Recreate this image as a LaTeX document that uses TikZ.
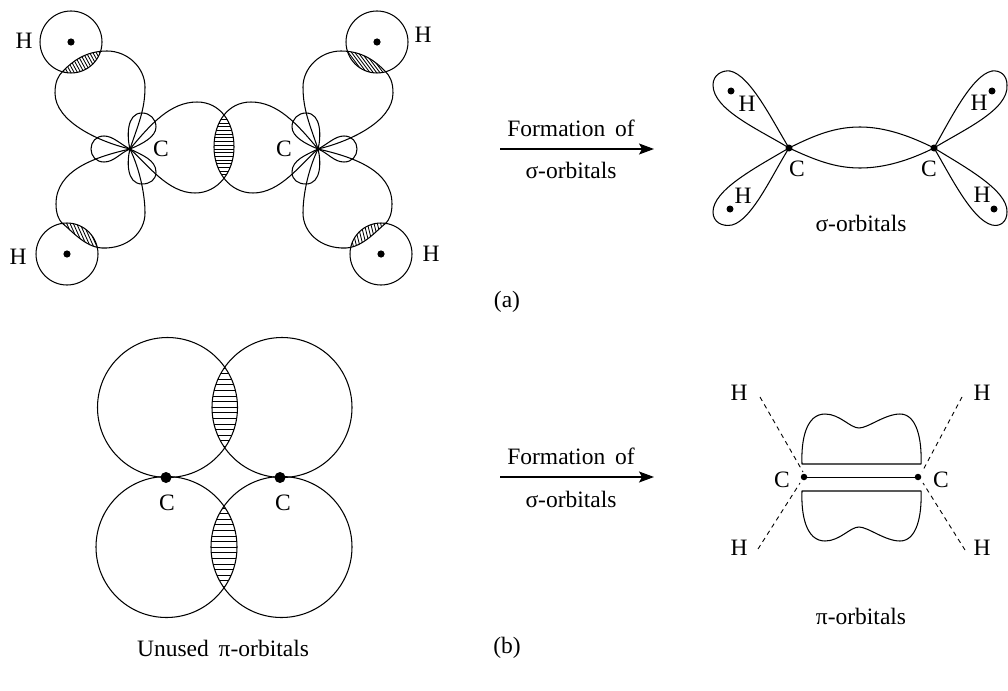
\documentclass[tikz,border=0pt]{standalone}
\usepackage{fontspec}
\setmainfont{Liberation Serif}
\usetikzlibrary{arrows.meta}
\tikzset{
  orb/.style={line width=1.05pt,line join=round},
  hatchline/.style={line width=0.85pt},
  lab/.style={font=\fontsize{23.5}{26}\selectfont,inner sep=0pt},
  dotc/.style={circle,fill=black,inner sep=0pt,minimum size=#1},
  dashb/.style={line width=0.9pt,dash pattern=on 4.5pt off 4pt},
  reactarrow/.style={line width=1.2pt,-{Stealth[length=15pt,width=11pt,inset=3pt]}}
}
% y-down hatching: lines from (x,y0) to (x+dx,y1)
\newcommand\hatchset[6]{\foreach \hx in {#1,#2,...,#3}{\draw[hatchline] (\hx,#4) -- ({\hx+#6},#5);}}
\newcommand\lobeUp{(130,149) .. controls (100,142) and (55,122) .. (55,93) .. controls (55,82) and (58,76) .. (63,71) .. controls (72,62) and (85,51) .. (107,51) .. controls (128,51) and (145,68) .. (145,87) .. controls (145,110) and (138,125) .. (130,149)}
\newcommand\lobeDown{(130,149) .. controls (95,157) and (56,170) .. (56,204) .. controls (56,214) and (59,220) .. (62,223) .. controls (72,231) and (85,247) .. (102,248) .. controls (128,249) and (145,232) .. (145,213) .. controls (145,195) and (140,170) .. (130,149)}
\newcommand\lobeSide{(130,149) .. controls (150,125) and (170,102) .. (197,102) .. controls (220,102) and (234,122) .. (234,147) .. controls (234,172) and (218,193) .. (195,193) .. controls (168,193) and (148,165) .. (130,149)}
\newcommand\halfA[2]{%
  \begin{scope}
    \clip (71,42) circle (31);
    \clip \lobeUp;
    \hatchset{20}{23.3}{150}{40}{80}{#1}
  \end{scope}
  \begin{scope}
    \clip (67,254) circle (31);
    \clip \lobeDown;
    \hatchset{20}{23.3}{150}{215}{255}{#2}
  \end{scope}
  \draw[orb] (71,42) circle (31);
  \draw[orb] (67,254) circle (31);
  \draw[orb] \lobeUp;
  \draw[orb] \lobeDown;
  \draw[orb] \lobeSide;
  \draw[orb] (130,149) .. controls (127,138) and (126,113) .. (142,113) .. controls (150,113) and (156,119) .. (156,127) .. controls (156,137) and (142,144) .. (130,149);
  \draw[orb] (130,149) .. controls (127,160) and (126,184) .. (142,184) .. controls (150,184) and (156,180) .. (156,172) .. controls (156,160) and (142,155) .. (130,149);
  \draw[orb] (130,149) .. controls (120,144) and (113,136) .. (104,136) .. controls (96,136) and (91,142) .. (91,149) .. controls (91,156) and (96,162) .. (104,162) .. controls (114,162) and (120,153) .. (130,149);
  \fill (71,42) circle (3.6);
  \fill (67,254) circle (3.6);
}
\begin{document}
\begin{tikzpicture}[x=1pt,y=-1pt]
\useasboundingbox (0,0) rectangle (1008,690);
% ---- (a) left
\begin{scope}
  \clip \lobeSide;
  \clip[shift={(448,0)},xscale=-1] \lobeSide;
  \foreach \hy in {112,115.7,...,180}{\draw[hatchline] (205,\hy) -- (245,\hy);}
\end{scope}
\halfA{22}{18}
\begin{scope}[shift={(448,0)},xscale=-1]
  \halfA{-30}{-10}
\end{scope}
\node[lab] (h1) at (24,41) {H};
\node[lab] (h2) at (18,257) {H};
\node[lab] (h3) at (423,35) {H};
\node[lab] (h4) at (431,254) {H};
\node[lab] (c1) at (161,149) {C};
\node[lab] (c2) at (284,149) {C};
% ---- arrows
\coordinate (a1s) at (500,149);\coordinate (a1e) at (654,149);
\draw[reactarrow] (a1s) -- (a1e);
\node[lab] (f1) at (571,128) {Formation\hspace{4pt} of};
\node[lab] (s1) at (571,170) {σ-orbitals};
\coordinate (a2s) at (500,477);\coordinate (a2e) at (654,477);
\draw[reactarrow] (a2s) -- (a2e);
\node[lab] (f2) at (571,456) {Formation\hspace{4pt} of};
\node[lab] (s2) at (571,499) {σ-orbitals};
\node[lab] (la) at (507,302) {(a)};
\node[lab] (lb) at (507,648) {(b)};
% ---- sigma
\draw[orb] (789,148) .. controls (815,135) and (835,127) .. (860,127) .. controls (885,127) and (910,136) .. (934,148);
\draw[orb] (789,148) .. controls (815,160) and (835,168) .. (860,168) .. controls (885,168) and (910,160) .. (934,148);
\draw[orb] (789,148) .. controls (760,130) and (713,110) .. (713,85) .. controls (713,75) and (722,70) .. (730,71) .. controls (750,75) and (772,120) .. (789,148);
\draw[orb] (789,148) .. controls (755,168) and (713,190) .. (713,212) .. controls (713,222) and (722,227) .. (732,225) .. controls (752,220) and (772,175) .. (789,148);
\draw[orb] (934,148) .. controls (963,130) and (1009,110) .. (1007,85) .. controls (1007,75) and (1000,70) .. (992,71) .. controls (972,75) and (950,120) .. (934,148);
\draw[orb] (934,148) .. controls (963,166) and (1008,190) .. (1007,212) .. controls (1007,222) and (1000,227) .. (992,225) .. controls (972,220) and (950,175) .. (934,148);
\node[dotc=7pt] (cs1) at (789,148) {};
\node[dotc=7pt] (cs2) at (934,148) {};
\node[dotc=7pt] (hs1) at (731,91) {};
\node[dotc=7pt] (hs2) at (730,209) {};
\node[dotc=7pt] (hs3) at (992,91) {};
\node[dotc=7pt] (hs4) at (994,209) {};
\node[lab] (th1) at (747,104) {H};
\node[lab] (th2) at (743,196) {H};
\node[lab] (th3) at (979,103) {H};
\node[lab] (th4) at (982,195) {H};
\node[lab] (tc1) at (797,169) {C};
\node[lab] (tc2) at (929,169) {C};
\node[lab] (ts) at (861,223) {σ-orbitals};
% ---- (b) circles
\begin{scope}
  \clip (167.5,407.5) circle (70);
  \clip (282,407.5) circle (70);
  \foreach \hy in {340,345.6,...,475}{\draw[hatchline] (200,\hy) -- (250,\hy);}
\end{scope}
\begin{scope}
  \clip (166.5,547) circle (70.5);
  \clip (281.5,547) circle (70.5);
  \foreach \hy in {480,485.6,...,615}{\draw[hatchline] (200,\hy) -- (250,\hy);}
\end{scope}
\draw[orb] (167.5,407.5) circle (70);
\draw[orb] (282,407.5) circle (70);
\draw[orb] (166.5,547) circle (70.5);
\draw[orb] (281.5,547) circle (70.5);
\node[dotc=11pt] (pc1) at (166,477.5) {};
\node[dotc=11pt] (pc2) at (280,477.5) {};
\node[lab] (pl1) at (167,503) {C};
\node[lab] (pl2) at (283,503) {C};
\node[lab] (un) at (223,648) {Unused\hspace{4pt} π-orbitals};
% ---- pi
\node[dotc=6.5pt] (pd1) at (804,477) {};
\node[dotc=6.5pt] (pd2) at (918,477) {};
\draw[line width=0.9pt] (pd1) -- (pd2);
\draw[orb] (802,464) .. controls (801,440) and (806,414) .. (825,414) .. controls (840,414) and (850,428) .. (859,428) .. controls (868,428) and (885,414) .. (900,414) .. controls (917,414) and (922,440) .. (921,464) -- cycle;
\draw[orb] (802,491) .. controls (801,515) and (806,541) .. (825,541) .. controls (840,541) and (850,527) .. (859,527) .. controls (868,527) and (885,541) .. (900,541) .. controls (917,541) and (922,515) .. (921,491) -- cycle;
\coordinate (dh1) at (760,397);\coordinate (dc1) at (803,472);
\coordinate (dh2) at (962,397);\coordinate (dc2) at (922,472);
\coordinate (dh3) at (758,549);\coordinate (dc3) at (800,483);
\coordinate (dh4) at (965,550);\coordinate (dc4) at (923,483);
\draw[dashb] (dh1) -- (dc1);
\draw[dashb] (dh2) -- (dc2);
\draw[dashb] (dh3) -- (dc3);
\draw[dashb] (dh4) -- (dc4);
\node[lab] (ph1) at (739,393) {H};
\node[lab] (ph2) at (982,393) {H};
\node[lab] (ph3) at (739,548) {H};
\node[lab] (ph4) at (982,548) {H};
\node[lab] (pc3) at (782,480) {C};
\node[lab] (pc4) at (941,480) {C};
\node[lab] (tp) at (861,616) {π-orbitals};
\end{tikzpicture}
\end{document}
